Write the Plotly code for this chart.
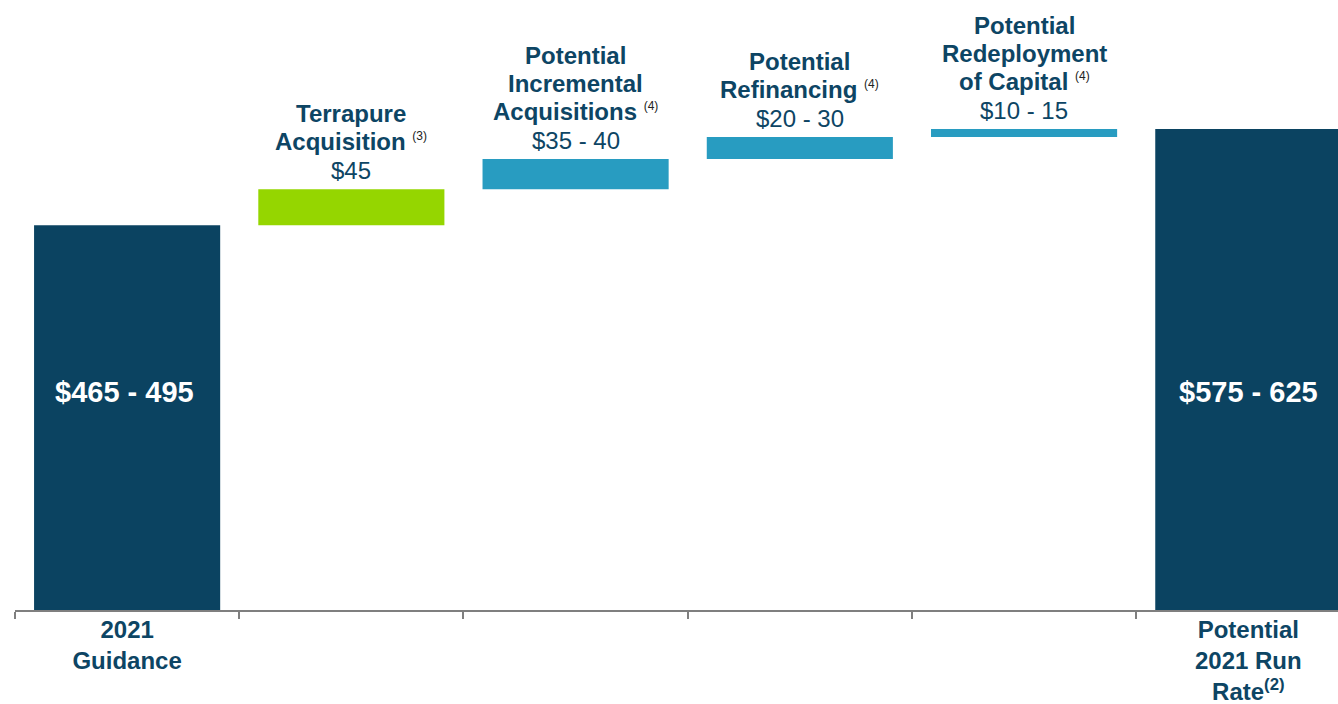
import plotly.graph_objects as go

categories = ["2021 Guidance", "Terrapure Acquisition", "Potential Incremental Acquisitions",
              "Potential Refinancing", "Potential Redeployment of Capital", "Potential 2021 Run Rate"]
tick_labels = ["<b>2021<br>Guidance</b>", "", "", "", "", "<b>Potential<br>2021 Run<br>Rate<sup>(2)</sup></b>"]
bar_base = [0, 480, 525, 562.5, 590, 0]
bar_value = [480, 45, 37.5, 27.5, 10, 600]
value_labels = ["$465 - 495", "$45", "$35 - 40", "$20 - 30", "$10 - 15", "$575 - 625"]
title_lines = [None, ["Terrapure", "Acquisition"], ["Potential", "Incremental", "Acquisitions"],
               ["Potential", "Refinancing"], ["Potential", "Redeployment", "of Capital"], None]
footnotes = [None, "(3)", "(4)", "(4)", "(4)", None]

NAVY = "#0B4361"
GREEN = "#95D600"
TEAL = "#289CC1"
TEXT = "#0D4564"
colors = [NAVY, GREEN, TEAL, TEAL, TEAL, NAVY]
FONT = "Arial, Liberation Sans, sans-serif"

fig = go.Figure()
fig.add_trace(go.Bar(
    x=categories, y=bar_value, base=bar_base,
    marker=dict(color=colors, line=dict(width=0)), width=0.83,
    hoverinfo="skip", showlegend=False,
))

annotations = []
for i, cat in enumerate(categories):
    top = bar_base[i] + bar_value[i]
    if title_lines[i] is None:
        annotations.append(dict(
            x=cat, y=272, xref="x", yref="y", text="<b>%s</b>" % value_labels[i],
            showarrow=False, font=dict(family=FONT, size=29, color="white"),
            xanchor="center", yanchor="middle", xshift=-3 if i == 0 else 0))
        continue
    annotations.append(dict(
        x=cat, y=top, xref="x", yref="y", text=value_labels[i],
        showarrow=False, font=dict(family=FONT, size=24, color=TEXT),
        xanchor="center", yanchor="middle", yshift=19))
    n = len(title_lines[i])
    for k, line in enumerate(title_lines[i]):
        txt = "<b>%s</b>" % line
        if k == n - 1:
            txt += " <sup><span style='color:#222222;font-size:12px;font-weight:normal'>%s</span></sup>" % footnotes[i]
        annotations.append(dict(
            x=cat, y=top, xref="x", yref="y", text=txt,
            showarrow=False, font=dict(family=FONT, size=24, color=TEXT),
            xanchor="center", yanchor="middle", yshift=48 + 28 * (n - 1 - k)))

fig.update_layout(
    width=1338, height=704,
    margin=dict(l=15, r=0, t=0, b=94),
    paper_bgcolor="white", plot_bgcolor="white",
    annotations=annotations,
    xaxis=dict(
        type="category", range=[-0.5, 5.40], tickmode="array", tickvals=categories,
        ticktext=tick_labels, tickson="boundaries", ticks="outside", ticklen=7,
        tickwidth=1.5, tickcolor="#7F7F7F", showline=True, linecolor="#7F7F7F",
        linewidth=2, showgrid=False, zeroline=False, automargin=False,
        ticklabelstandoff=-3,
        tickfont=dict(family=FONT, size=24, color=TEXT),
    ),
    yaxis=dict(range=[0, 761], visible=False, showgrid=False, zeroline=False, automargin=False),
)

fig.write_html("out.html")
